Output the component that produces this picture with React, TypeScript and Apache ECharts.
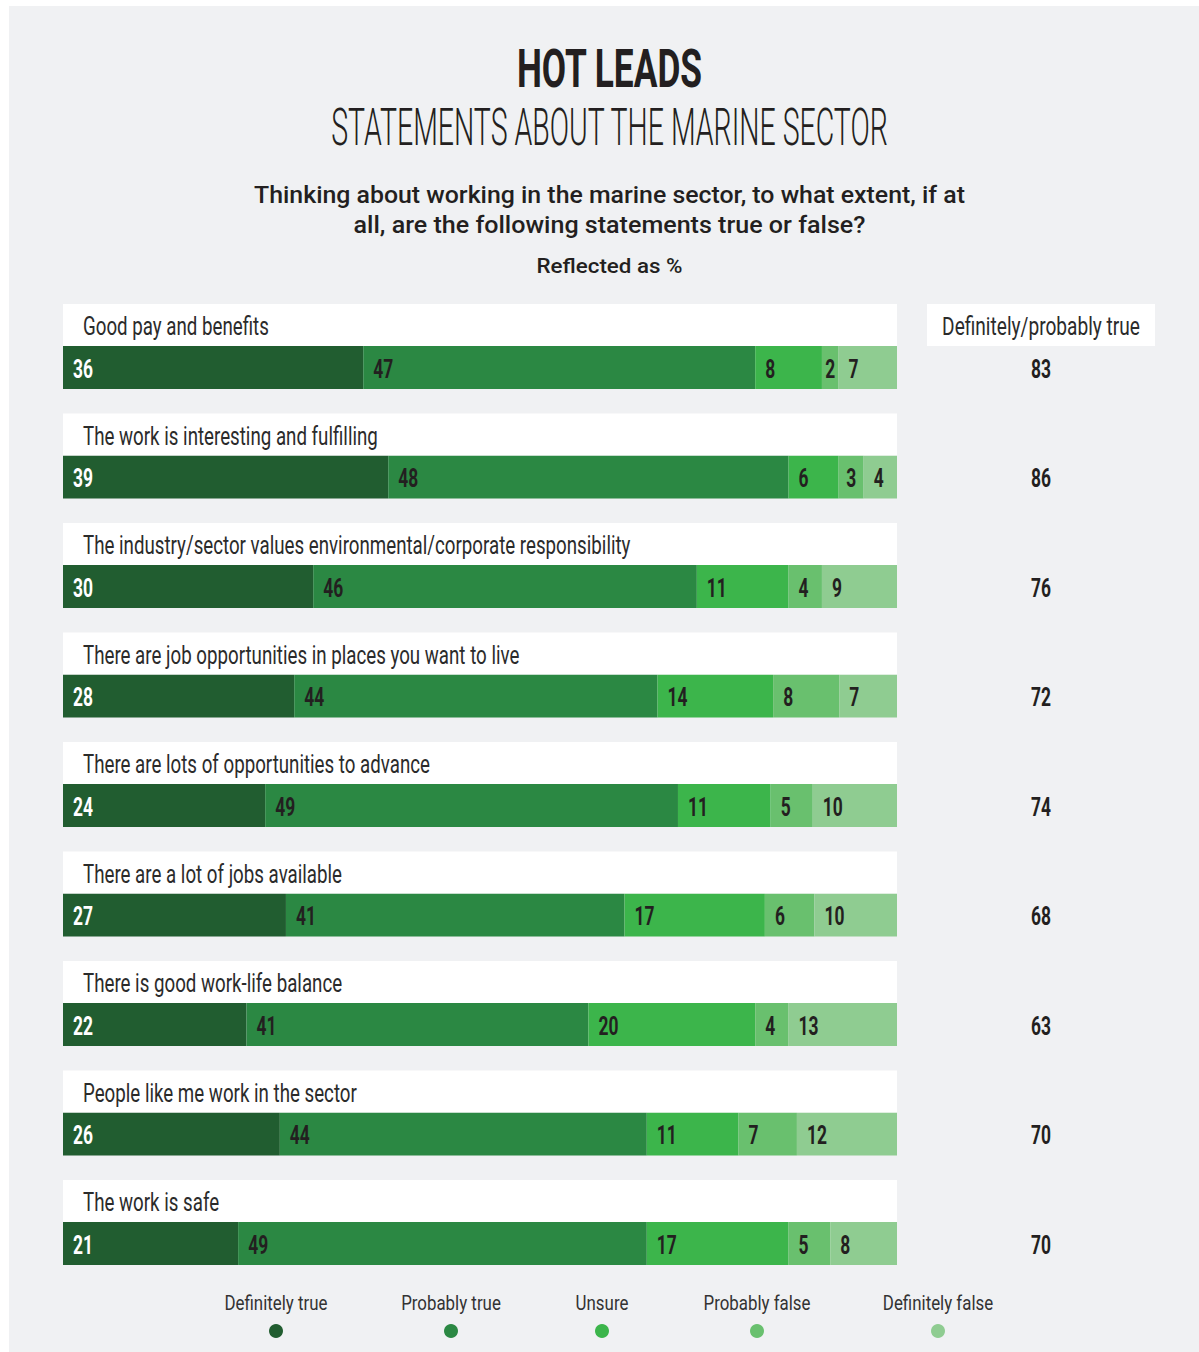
import React, { useEffect, useRef } from "react";
import * as echarts from "echarts";

const categories = [
  "Good pay and benefits",
  "The work is interesting and fulfilling",
  "The industry/sector values environmental/corporate responsibility",
  "There are job opportunities in places you want to live",
  "There are lots of opportunities to advance",
  "There are a lot of jobs available",
  "There is good work-life balance",
  "People like me work in the sector",
  "The work is safe",
];
const definitelyTrue = [36, 39, 30, 28, 24, 27, 22, 26, 21];
const probablyTrue = [47, 48, 46, 44, 49, 41, 41, 44, 49];
const unsure = [8, 6, 11, 14, 11, 17, 20, 11, 17];
const probablyFalse = [2, 3, 4, 8, 5, 6, 4, 7, 5];
const definitelyFalse = [7, 4, 9, 7, 10, 10, 13, 12, 8];
const totalTrue = [83, 86, 76, 72, 74, 68, 63, 70, 70];
const seriesNames = ["Definitely true", "Probably true", "Unsure", "Probably false", "Definitely false"];
const colors = ["#215d30", "#2b8843", "#3cb54b", "#69c06e", "#8fcc91"];
const legendCenters = [276, 451, 602, 757, 938];

const title = "HOT LEADS";
const subtitle = "STATEMENTS ABOUT THE MARINE SECTOR";
const question1 = "Thinking about working in the marine sector, to what extent, if at";
const question2 = "all, are the following statements true or false?";
const note = "Reflected as %";
const totalHeader = "Definitely/probably true";

const FONT = "Roboto";
const TEXT = "#231f20";

let ctx: CanvasRenderingContext2D | null = null;
function measure(text: string, weight: number, size: number) {
  if (!ctx) ctx = document.createElement("canvas").getContext("2d");
  ctx!.font = `${weight} ${size}px ${FONT}`;
  return ctx!.measureText(text).width;
}

export default function App() {
  const ref = useRef<HTMLDivElement>(null);
  useEffect(() => {
    document.body.style.margin = "0";
    const chart = echarts.init(ref.current!, null, { renderer: "svg" });
    const allSeries = [definitelyTrue, probablyTrue, unsure, probablyFalse, definitelyFalse];
    const sums = categories.map((_, i) => allSeries.reduce((s, arr) => s + arr[i], 0));

    // font scales (condensed look)
    const catSize = 25.5;
    const catScale = 186 / measure(categories[0], 400, catSize);
    const numSize = 26;
    const numScale = 20 / measure("36", 700, numSize);
    const legSize = 20;
    const legScale = 103 / measure(seriesNames[0], 400, legSize);

    const barSeries = allSeries.map((arr, k) => ({
      type: "bar",
      name: seriesNames[k],
      stack: "all",
      barWidth: 43,
      itemStyle: { color: colors[k] },
      data: arr.map((v, i) => (v * 100) / sums[i]),
    }));

    const custom = {
      type: "custom",
      coordinateSystem: "cartesian2d",
      clip: false,
      silent: true,
      z: 5,
      encode: { x: 0, y: 1 },
      data: categories.map((_, i) => [0, i]),
      renderItem: (params: any, api: any) => {
        const i = api.value(1);
        const c0 = api.coord([0, i]);
        const c1 = api.coord([100, i]);
        const x0 = c0[0];
        const x1 = c1[0];
        const yc = c0[1];
        const bandTop = yc - 21.5 - 42;
        const children: any[] = [
          { type: "rect", shape: { x: x0, y: bandTop, width: x1 - x0, height: 42 }, style: { fill: "#ffffff" } },
          {
            type: "text",
            x: x0 + 20,
            y: bandTop + 22,
            scaleX: catScale,
            style: { text: categories[i], fontFamily: FONT, fontWeight: 400, fontSize: catSize, fill: "#2b2b2b", verticalAlign: "middle", align: "left" },
          },
          {
            type: "text",
            x: x1 + 144,
            y: yc + 1,
            scaleX: numScale,
            style: { text: String(totalTrue[i]), fontFamily: FONT, fontWeight: 700, fontSize: numSize, fill: TEXT, verticalAlign: "middle", align: "center" },
          },
        ];
        // value labels inside the segments
        let cum = 0;
        allSeries.forEach((arr, k) => {
          const v = arr[i];
          const norm = (v * 100) / sums[i];
          const sx = api.coord([cum, i])[0];
          const ex = api.coord([cum + norm, i])[0];
          cum += norm;
          const lw = measure(String(v), 700, numSize) * numScale;
          const pad = Math.min(10, Math.max(1, (ex - sx - lw) / 2));
          children.push({
            type: "text",
            x: sx + pad,
            y: yc + 1,
            scaleX: numScale,
            style: { text: String(v), fontFamily: FONT, fontWeight: 700, fontSize: numSize, fill: k === 0 ? "#ffffff" : TEXT, verticalAlign: "middle", align: "left" },
          });
        });
        if (i === 0) {
          children.push(
            { type: "rect", shape: { x: x1 + 30, y: bandTop, width: 228, height: 42 }, style: { fill: "#ffffff" } },
            {
              type: "text",
              x: x1 + 144,
              y: bandTop + 22,
              scaleX: 198 / measure(totalHeader, 400, catSize),
              style: { text: totalHeader, fontFamily: FONT, fontWeight: 400, fontSize: catSize, fill: "#2b2b2b", verticalAlign: "middle", align: "center" },
            }
          );
        }
        return { type: "group", children };
      },
    };

    const legendGraphics: any[] = [];
    seriesNames.forEach((n, k) => {
      legendGraphics.push(
        { type: "text", x: legendCenters[k], y: 1304, scaleX: legScale, style: { text: n, fontFamily: FONT, fontWeight: 400, fontSize: legSize, fill: "#333", align: "center", verticalAlign: "middle" } },
        { type: "circle", shape: { cx: legendCenters[k], cy: 1331, r: 7 }, style: { fill: colors[k] } }
      );
    });

    const tText = (text: string, y: number, weight: number, size: number, width: number) => ({
      type: "text",
      x: 609.5,
      y,
      scaleX: width / measure(text, weight, size),
      style: { text, fontFamily: FONT, fontWeight: weight, fontSize: size, fill: TEXT, align: "center", verticalAlign: "middle" },
    });

    chart.setOption({
      animation: false,
      backgroundColor: "#ffffff",
      grid: { left: 63, right: 302, top: 312.75, height: 985.5 },
      xAxis: { type: "value", min: 0, max: 100, show: false },
      yAxis: { type: "category", data: categories, inverse: true, show: false },
      graphic: [
        { type: "rect", z: -10, shape: { x: 9, y: 6, width: 1190, height: 1346 }, style: { fill: "#f0f1f3" } },
        tText(title, 69, 700, 53, 186),
        tText(subtitle, 127, 300, 52, 558),
        tText(question1, 195, 500, 24, 711),
        tText(question2, 225, 500, 24, 512),
        tText(note, 266, 500, 21, 146),
        ...legendGraphics,
      ],
      series: [...barSeries, custom],
    });
    return () => chart.dispose();
  }, []);
  return <div ref={ref} style={{ width: 1199, height: 1352 }} />;
}
